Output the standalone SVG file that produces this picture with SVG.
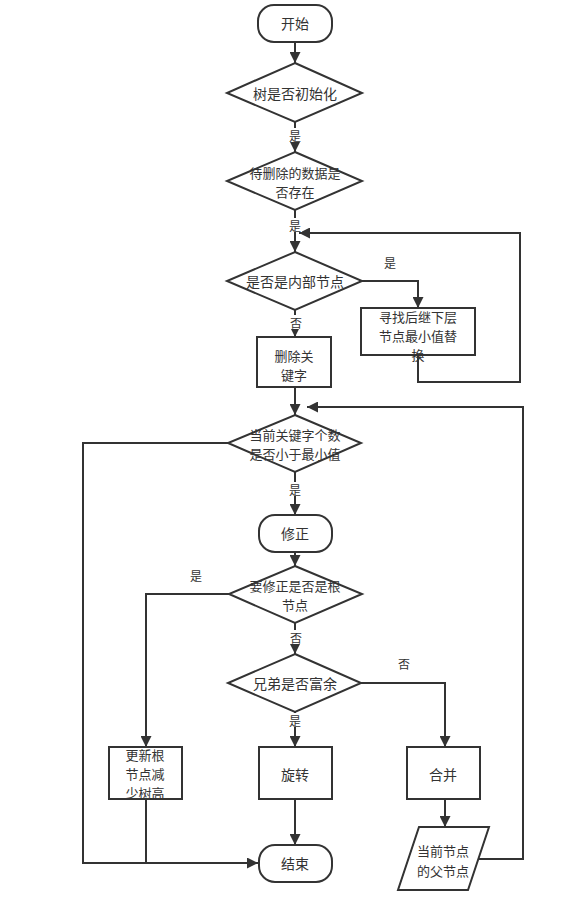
<svg xmlns="http://www.w3.org/2000/svg" width="570" height="912" viewBox="0 0 570 912">
<style>
.s{fill:#fff;stroke:#333;stroke-width:2}
.t{font-family:"Noto Sans CJK SC","Noto Sans",sans-serif;font-size:14px;fill:#333;text-anchor:middle;dominant-baseline:central}
.m{font-size:13px}
.l{font-family:"Noto Sans CJK SC","Noto Sans",sans-serif;font-size:12px;fill:#333;text-anchor:middle;dominant-baseline:central}
.c{fill:none;stroke:#333;stroke-width:2;marker-end:url(#a)}
.n{fill:none;stroke:#333;stroke-width:2}
</style>
<defs>
<marker id="a" viewBox="0 0 10 10" refX="10" refY="5" markerWidth="5.5" markerHeight="5.5" orient="auto" markerUnits="strokeWidth"><path d="M0,0 L10,5 L0,10 Z" fill="#333"/></marker>
</defs>
<rect width="570" height="912" fill="#fff"/>
<g id="connectors">
<path class="c" d="M295,42 V63"/>
<path class="c" d="M295,122 V152"/>
<path class="c" d="M295,210 V252"/>
<path class="c" d="M362,281 H418 V308"/>
<path class="c" d="M418,355 V382 H520 V233 H299"/>
<path class="c" d="M295,310 V337"/>
<path class="c" d="M295,387 V415"/>
<path class="c" d="M295,472 V515"/>
<path class="c" d="M295,552 V566"/>
<path class="c" d="M295,623 V654"/>
<path class="c" d="M229,594 H146 V747"/>
<path class="c" d="M295,712 V747"/>
<path class="c" d="M361,683 H445 V747"/>
<path class="c" d="M295,799 V845"/>
<path class="c" d="M445,799 V827"/>
<path class="c" d="M478,859 H523 V407 H307"/>
<path class="c" d="M228,443 H83 V863 H258"/>
<path class="n" d="M146,799 V863"/>
</g>
<g id="labels">
<rect x="288" y="128" width="14" height="14" fill="#fff"/><text class="l" x="295" y="135">是</text>
<rect x="288" y="218" width="14" height="14" fill="#fff"/><text class="l" x="295" y="225">是</text>
<text class="l" x="390" y="262">是</text>
<rect x="288" y="315" width="14" height="14" fill="#fff"/><text class="l" x="296" y="322">否</text>
<rect x="288" y="482" width="14" height="14" fill="#fff"/><text class="l" x="295" y="489">是</text>
<text class="l" x="196" y="575">是</text>
<rect x="288" y="630" width="14" height="14" fill="#fff"/><text class="l" x="296" y="637">否</text>
<text class="l" x="404" y="663">否</text>
<rect x="288" y="713" width="14" height="14" fill="#fff"/><text class="l" x="295" y="720">是</text>
</g>
<g id="start"><rect class="s" x="258" y="5" width="74" height="37" rx="16"/><text class="t" x="295" y="23">开始</text></g>
<g id="d1"><polygon class="s" points="295,63 362,93 295,122 227,93"/><text class="t" x="295" y="93">树是否初始化</text></g>
<g id="d2"><polygon class="s" points="295,152 362,181 295,210 227,181"/><text class="t m" x="295" y="172">待删除的数据是</text><text class="t m" x="295" y="191">否存在</text></g>
<g id="d3"><polygon class="s" points="295,252 362,281 295,310 227,281"/><text class="t" x="295" y="281">是否是内部节点</text></g>
<g id="replace"><rect class="s" x="361" y="308" width="114" height="47"/><text class="t m" x="418" y="316">寻找后继下层</text><text class="t m" x="418" y="335">节点最小值替</text><text class="t m" x="418" y="354">换</text></g>
<g id="delete"><rect class="s" x="257" y="337" width="74" height="50"/><text class="t m" x="294" y="355">删除关</text><text class="t m" x="294" y="374">键字</text></g>
<g id="d4"><polygon class="s" points="295,415 361,443 295,472 228,443"/><text class="t m" x="295" y="434">当前关键字个数</text><text class="t m" x="295" y="453">是否小于最小值</text></g>
<g id="fix"><rect class="s" x="259" y="515" width="73" height="37" rx="16"/><text class="t" x="295" y="533">修正</text></g>
<g id="d5"><polygon class="s" points="295,566 362,594 295,623 229,594"/><text class="t m" x="295" y="585">要修正是否是根</text><text class="t m" x="295" y="604">节点</text></g>
<g id="d6"><polygon class="s" points="295,654 361,683 295,712 228,683"/><text class="t" x="295" y="683">兄弟是否富余</text></g>
<g id="updateRoot"><rect class="s" x="109" y="747" width="73" height="52"/><text class="t m" x="145" y="754">更新根</text><text class="t m" x="145" y="773">节点减</text><text class="t m" x="145" y="792">少树高</text></g>
<g id="rotate"><rect class="s" x="259" y="747" width="73" height="52"/><text class="t" x="295" y="774">旋转</text></g>
<g id="merge"><rect class="s" x="407" y="747" width="73" height="52"/><text class="t" x="443" y="774">合并</text></g>
<g id="parent"><polygon class="s" points="419,827 489,827 468,890 398,890"/><text class="t m" x="443" y="850">当前节点</text><text class="t m" x="443" y="870">的父节点</text></g>
<g id="end"><rect class="s" x="259" y="845" width="73" height="37" rx="16"/><text class="t" x="295" y="863">结束</text></g>
</svg>
